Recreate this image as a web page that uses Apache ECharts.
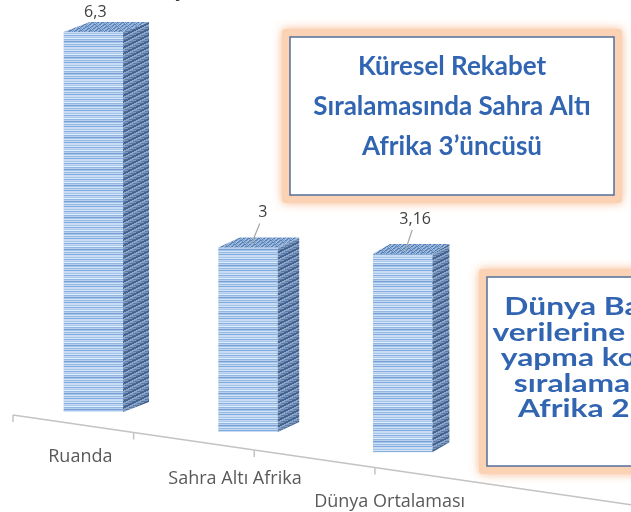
<!DOCTYPE html>
<html>
<head>
<meta charset="utf-8">
<script src="https://cdn.jsdelivr.net/npm/echarts@6/dist/echarts.min.js"></script>
<style>
  html, body { margin: 0; padding: 0; background: #fff; }
  #chart { width: 631px; height: 512px; }
</style>
</head>
<body>
<div id="chart"></div>
<script>
// chart data
const categories = ['Ruanda', 'Sahra Altı Afrika', 'Dünya Ortalaması']
const values = [6.3, 3, 3.16]
const valueLabels = ['6,3', '3', '3,16']
const titleText = 'Ekonomik Büyüme Oranı %'
const note1 = ['Küresel Rekabet', 'Sıralamasında Sahra Altı', 'Afrika 3’üncüsü']
const note2 = ['Dünya Bankası', 'verilerine göre iş', 'yapma kolaylığı', 'sıralamasında', 'Afrika 2’ncisi']

// fake perspective of the excel 3d chart
const BASE_SLOPE = 0.13
const PERSP = 0.00013
const DEPTH_X = 26
const DEPTH_SHRINK = 0.00112
const DEPTH_Y = -10
const AXIS_SLOPE = 0.145
const AXIS_DROP = 14.7
const AXIS_SQUEEZE = 0.78

const FONT = '"Open Sans", Lato, sans-serif'
const NOTE_FONT = 'Lato, "Open Sans", sans-serif'

const makePattern = (w, h, pick) => {
  const c = document.createElement('canvas')
  c.width = w
  c.height = h
  const ctx = c.getContext('2d')
  for (let y = 0; y < h; y++) {
    for (let x = 0; x < w; x++) {
      ctx.fillStyle = pick(x, y)
      ctx.fillRect(x, y, 1, 1)
    }
  }
  return { image: c, repeat: 'repeat' }
}

const frontRows = ['#c7dbf2', '#a3c3e9', '#d6e5f7', '#86aedf', '#c2d7f1', '#accaec', '#e0ecf9', '#92b7e3',
  '#b8d0ee', '#769fd7', '#a8c5ea', '#d2e2f6', '#98bbe5', '#c0d6f1', '#82abdd', '#cadcf3']
const frontFill = makePattern(4, frontRows.length, (x, y) => frontRows[y])
const sideFill = makePattern(12, 12, (x, y) => {
  const d = (x + 2 * y) % 12
  if (d < 4) return '#45638f'
  if (d < 7) return '#8ea8cb'
  return y % 2 ? '#5b7aa5' : '#7b97bf'
})
const topFill = makePattern(10, 10, (x, y) => {
  const d = (2 * x + 3 * y) % 10
  if (d < 3) return '#587fb4'
  if (d < 6) return '#93b2d9'
  return (x + y) % 2 ? '#7098c8' : '#a9c2e2'
})

const chart = echarts.init(document.getElementById('chart'))

const renderItem = (params, api) => {
  const i = api.value(0)
  const v = api.value(1)
  const band = api.size([1, 0])[0]
  const ref = api.coord([0, 0])
  const p0 = api.coord([i, 0])
  const p1 = api.coord([i, v])
  const cx = p0[0]
  const off = cx - ref[0]
  const base = p0[1] + BASE_SLOPE * off
  const top = base - (p0[1] - p1[1]) * (1 + PERSP * off)
  const half = band * 0.192
  const xl = cx - half
  const xr = cx + half
  const dx = DEPTH_X * (1 - DEPTH_SHRINK * off)
  const dy = DEPTH_Y

  // sloped floor axis
  const bLeft0 = ref[0] - band / 2
  const axisX = (b) => bLeft0 - 3 + AXIS_SQUEEZE * (b - bLeft0)
  const axisY = (x) => ref[1] + AXIS_DROP + AXIS_SLOPE * (x - ref[0])
  const last = params.dataIndex === values.length - 1
  const ax1 = axisX(cx - band / 2)
  const ax2 = last ? api.getWidth() : axisX(cx + band / 2)
  const axisStyle = { stroke: '#c3c3c3', lineWidth: 1.5 }
  const children = [
    { type: 'line', shape: { x1: ax1, y1: axisY(ax1), x2: ax2, y2: axisY(ax2) }, style: axisStyle },
    { type: 'line', shape: { x1: ax1, y1: axisY(ax1), x2: ax1, y2: axisY(ax1) + 7 }, style: axisStyle },
  ]
  if (last) {
    const t = axisX(cx + band / 2)
    children.push({ type: 'line', shape: { x1: t, y1: axisY(t), x2: t, y2: axisY(t) + 7 }, style: axisStyle })
  }
  const lx = cx - 13
  children.push({
    type: 'text',
    x: lx,
    y: axisY(lx) + 32,
    style: {
      text: categories[i], fill: '#595959', font: '18px ' + FONT,
      align: 'center', verticalAlign: 'middle',
    },
  })

  // box faces
  children.push(
    {
      type: 'polygon',
      shape: { points: [[xl, top], [xr, top], [xr, base], [xl, base]] },
      style: { fill: frontFill },
    },
    {
      type: 'polygon',
      shape: { points: [[xr, top], [xr + dx, top + dy], [xr + dx, base + dy], [xr, base]] },
      style: { fill: sideFill },
    },
    {
      type: 'polygon',
      shape: { points: [[xl, top], [xr, top], [xr + dx, top + dy], [xl + dx, top + dy]] },
      style: { fill: topFill },
    }
  )

  // value label with leader
  const tcx = cx + dx / 2
  const tcy = top + dy / 2
  let labX = tcx + 4
  let labY = tcy - 30
  if (labY < 14) {
    labX = tcx - 11
    labY = 12
  } else {
    children.push({
      type: 'line',
      shape: { x1: labX - 3, y1: labY + 11, x2: cx + dx * 0.15, y2: top + dy * 0.3 },
      style: { stroke: '#a6a6a6', lineWidth: 1.2 },
    })
  }
  children.push({
    type: 'text',
    x: labX,
    y: labY,
    style: {
      text: valueLabels[i], fill: '#404040', font: '16px ' + FONT,
      align: 'center', verticalAlign: 'middle',
    },
  })
  return { type: 'group', children }
}

const noteBox = (x, y, w, h, lines, cx, cy, size, lineHeight, stretch) => ({
  type: 'group',
  children: [
    {
      type: 'rect',
      shape: { x: x - 8, y: y - 8, width: w + 16, height: h + 16, r: 3 },
      style: { fill: '#fbd2b3', shadowBlur: 10, shadowColor: 'rgba(247,170,120,0.85)' },
    },
    {
      type: 'rect',
      shape: { x: x, y: y, width: w, height: h },
      style: { fill: '#ffffff', stroke: '#536f9c', lineWidth: 1.5 },
    },
    {
      type: 'text',
      x: cx,
      y: cy,
      scaleX: stretch,
      style: {
        text: lines.join('\n'), fill: '#3165b2', font: 'bold ' + size + 'px ' + NOTE_FONT,
        lineHeight: lineHeight, align: 'center', verticalAlign: 'middle',
      },
    },
  ],
})

const option = {
  animation: false,
  backgroundColor: '#ffffff',
  grid: { left: 16, right: 151, top: 20, bottom: 100 },
  xAxis: { type: 'category', data: categories, show: false },
  yAxis: { type: 'value', min: 0, max: 6.5, show: false },
  graphic: [
    {
      type: 'text', x: 8, y: -27,
      style: { text: titleText, fill: '#404040', font: 'bold 28px ' + NOTE_FONT },
    },
    noteBox(290, 37, 324, 158, note1, 452, 107, 26, 40, 1),
    noteBox(487, 277, 220, 189, note2, 609, 358, 25, 25.5, 1.27),
  ],
  series: [
    {
      type: 'custom',
      renderItem,
      data: values.map((v, i) => [i, v]),
    },
  ],
}

chart.setOption(option)
</script>
</body>
</html>
